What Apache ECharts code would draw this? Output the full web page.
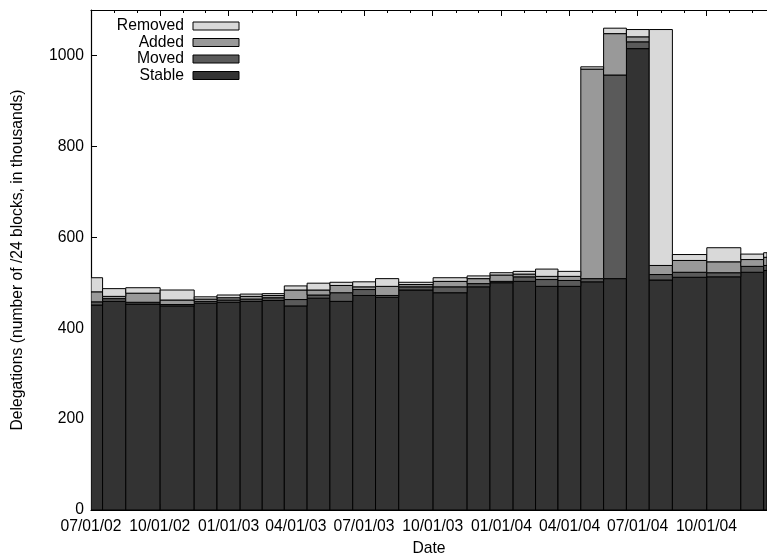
<!DOCTYPE html>
<html>
<head>
<meta charset="utf-8">
<script src="https://cdn.jsdelivr.net/npm/echarts@6/dist/echarts.min.js"></script>
<style>
html,body{margin:0;padding:0;background:#fff;}
#chart{width:767px;height:557px;}
</style>
</head>
<body>
<div id="chart"></div>
<script>
// ---- data (values in thousands of /24 blocks) ----
const dates = [
  '2002-07-01','2002-08-01','2002-09-01','2002-11-01','2002-12-01',
  '2003-01-01','2003-02-01','2003-03-01','2003-04-01','2003-05-01','2003-06-01',
  '2003-07-01','2003-08-01','2003-09-01','2003-11-01','2003-12-01',
  '2004-01-01','2004-02-01','2004-03-01','2004-04-01','2004-05-01','2004-06-01',
  '2004-07-01','2004-08-01','2004-09-01','2004-11-01','2004-12-01','2005-01-01'
];
const stable  = [451,459,453,449,455,457,459,461,449,466,459,472,468,484,478,491,500,503,492,492,502,509,1015,506,512,513,523,527];
const moved   = [7,6,4,3,4,5,5,6,14,7,19,13,4,7,13,7,3,10,15,13,7,448,15,12,11,9,13,11];
const added   = [22,5,20,10,5,5,6,5,21,11,16,6,20,5,12,11,14,6,7,9,461,91,11,20,26,24,15,18];
const removed = [31,17,12,22,5,6,5,4,9,15,7,11,17,5,8,6,5,6,16,11,5,12,16,519,13,31,12,10];
const seriesNames = ['Stable','Moved','Added','Removed'];
const xTickLabels = ['07/01/02','10/01/02','01/01/03','04/01/03','07/01/03','10/01/03','01/01/04','04/01/04','07/01/04','10/01/04'];
const xMinorTickDates = ['2002-08-01','2002-09-01','2002-11-01','2002-12-01','2003-02-01','2003-03-01','2003-05-01','2003-06-01',
  '2003-08-01','2003-09-01','2003-11-01','2003-12-01','2004-02-01','2004-03-01','2004-05-01','2004-06-01',
  '2004-08-01','2004-09-01','2004-11-01','2004-12-01'];
const yTickValues = [0,200,400,600,800,1000];
const xRange = ['2002-07-01','2004-12-21'];
const yMax = 1100;

// ---- helpers ----
function parseISO(s){ const p=s.split('-').map(Number); return new Date(p[0],p[1]-1,p[2]).getTime(); }
function parseMDY(s){ const p=s.split('/').map(Number); return new Date(2000+p[2],p[0]-1,p[1]).getTime(); }
function pad(n){ return (n<10?'0':'')+n; }
function fmt(v){ const d=new Date(v); return pad(d.getMonth()+1)+'/'+pad(d.getDate())+'/'+pad(d.getFullYear()%100); }

const t = dates.map(parseISO);
const n = t.length;
// gnuplot-style boxes: each box extends halfway to its neighbours
const leftEdge = t.map((v,i)=> i===0 ? v-(t[1]-t[0])/2 : (t[i-1]+v)/2);
const rightEdge = t.map((v,i)=> i===n-1 ? v+(v-t[i-1])/2 : (v+t[i+1])/2);

const layers = [stable, moved, added, removed];
const colors = ['#333333','#5a5a5a','#999999','#d9d9d9'];
const cum = new Array(n).fill(0);
const seriesData = layers.map(arr => arr.map((v,i)=>{ const b=cum[i]; cum[i]+=v; return [leftEdge[i], rightEdge[i], b, cum[i]]; }));

const xMin = parseISO(xRange[0]), xMax = parseISO(xRange[1]);
const majorTicks = xTickLabels.map(parseMDY);
const minorTicks = xMinorTickDates.map(parseISO);
const FONT = 'Liberation Sans, Arial, Helvetica, sans-serif';
const FS = 15.7;

function renderBox(color){
  return function(params, api){
    const p0 = api.coord([api.value(0), api.value(2)]);
    const p1 = api.coord([api.value(1), api.value(3)]);
    const cs = params.coordSys;
    const shape = echarts.graphic.clipRectByRect(
      {x:p0[0], y:p1[1], width:p1[0]-p0[0], height:p0[1]-p1[1]},
      {x:cs.x, y:cs.y, width:cs.width, height:cs.height});
    if(!shape) return null;
    return {type:'rect', shape:shape, style:{fill:color, stroke:'#000', lineWidth:1}};
  };
}

const chart = echarts.init(document.getElementById('chart'), null, {renderer:'canvas'});
const axisLineStyle = {color:'#000', width:1.2};
function xAxisBase(pos, ticks, len, showLine, showLabel){
  return {
    type:'value', position:pos, min:xMin, max:xMax, gridIndex:0,
    axisLine:{show:showLine, onZero:false, lineStyle:axisLineStyle},
    axisTick:{show:true, inside:true, length:len, customValues:ticks, lineStyle:{color:'#000', width:1}},
    axisLabel: showLabel ? {show:true, customValues:ticks, interval:0, margin:9, color:'#000', fontSize:FS, fontFamily:FONT, formatter:fmt} : {show:false},
    splitLine:{show:false}
  };
}
const xAxes = [
  Object.assign(xAxisBase('bottom', majorTicks, 6, true, true), {name:'Date', nameLocation:'middle', nameGap:31, nameTextStyle:{color:'#000', fontSize:FS, fontFamily:FONT}}),
  xAxisBase('bottom', minorTicks, 3, false, false),
  xAxisBase('top', majorTicks, 6, true, false),
  xAxisBase('top', minorTicks, 3, false, false)
];

chart.setOption({
  animation:false,
  backgroundColor:'#fff',
  textStyle:{fontFamily:FONT},
  grid:{left:91, right:0, top:10, bottom:47, containLabel:false, outerBoundsMode:'none'},
  legend:{
    data:['Removed','Added','Moved','Stable'],
    orient:'vertical', align:'right', left:113, top:18, padding:0,
    itemWidth:46, itemHeight:8, itemGap:0.5,
    icon:'rect',
    itemStyle:{borderColor:'#000', borderWidth:1},
    textStyle:{fontSize:FS, color:'#000', fontFamily:FONT, width:71, align:'right', padding:[0,4,0,0], lineHeight:15},
    selectedMode:false
  },
  xAxis: xAxes,
  yAxis:{
    type:'value', min:0, max:yMax,
    name:'Delegations (number of /24 blocks, in thousands)',
    nameLocation:'middle', nameRotate:90, nameGap:65,
    nameTextStyle:{color:'#000', fontSize:FS, fontFamily:FONT},
    axisLine:{show:true, lineStyle:axisLineStyle},
    axisTick:{show:true, inside:true, length:6, customValues:yTickValues, lineStyle:{color:'#000'}},
    axisLabel:{show:true, customValues:yTickValues, margin:7, color:'#000', fontSize:FS, fontFamily:FONT, formatter:function(v){return String(v);}},
    splitLine:{show:false}
  },
  series: seriesNames.map((name,k)=>({
    name:name, type:'custom', xAxisIndex:0, yAxisIndex:0,
    renderItem: renderBox(colors[k]),
    encode:{x:[0,1], y:[2,3]},
    itemStyle:{color:colors[k], borderColor:'#000', borderWidth:1},
    data: seriesData[k],
    clip:true
  }))
});
</script>
</body>
</html>
